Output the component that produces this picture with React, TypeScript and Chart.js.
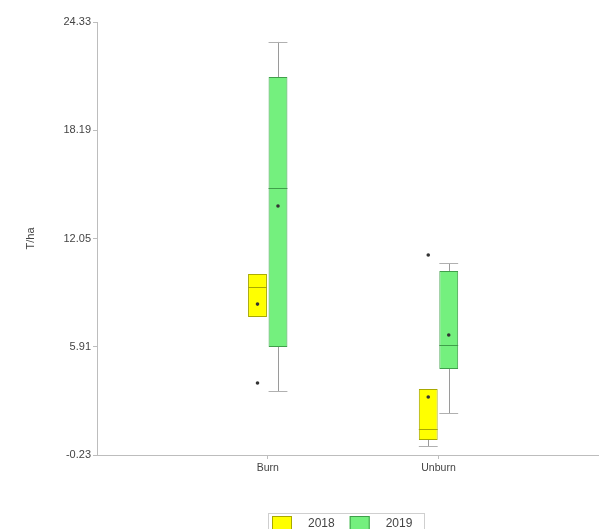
import React, { useEffect, useRef } from "react";
import { Chart, registerables } from "chart.js";

Chart.register(...registerables);

const categories = ["Burn", "Unburn"];
const seriesNames = ["2018", "2019"];
const yTicks = [-0.23, 5.91, 12.05, 18.19, 24.33];

const q1_2018 = [7.6, 0.62];
const med_2018 = [9.3, 1.24];
const q3_2018 = [10.04, 3.51];
const lo_2018 = [7.6, 0.28];
const hi_2018 = [10.04, 3.51];
const mean_2018 = [8.33, 3.06];
const out_2018 = [[3.85], [11.11]];

const q1_2019 = [5.9, 4.65];
const med_2019 = [14.91, 6.01];
const q3_2019 = [21.21, 10.21];
const lo_2019 = [3.4, 2.15];
const hi_2019 = [23.2, 10.66];
const mean_2019 = [13.89, 6.58];
const out_2019 = [[], []];

const fills = ["#ffff00", "#74f07e"];
const borders = ["#a8a800", "#3f9f4a"];

const stats = [
  { q1: q1_2018, med: med_2018, q3: q3_2018, lo: lo_2018, hi: hi_2018, mean: mean_2018, out: out_2018 },
  { q1: q1_2019, med: med_2019, q3: q3_2019, lo: lo_2019, hi: hi_2019, mean: mean_2019, out: out_2019 },
];

const FONT = "'Liberation Sans', Arial, sans-serif";

const boxPlugin = {
  id: "boxExtras",
  afterDatasetsDraw(chart: any) {
    const ctx = chart.ctx;
    const y = chart.scales.y;
    ctx.save();
    stats.forEach((s, di) => {
      const meta = chart.getDatasetMeta(di);
      meta.data.forEach((bar: any, j: number) => {
        const cx = bar.x;
        const hw = bar.width / 2;
        const pHi = y.getPixelForValue(s.hi[j]);
        const pLo = y.getPixelForValue(s.lo[j]);
        const pQ1 = y.getPixelForValue(s.q1[j]);
        const pQ3 = y.getPixelForValue(s.q3[j]);
        ctx.strokeStyle = "#9a9a9a";
        ctx.lineWidth = 1;
        ctx.beginPath();
        ctx.moveTo(Math.round(cx) + 0.5, pQ3);
        ctx.lineTo(Math.round(cx) + 0.5, pHi);
        ctx.moveTo(Math.round(cx) + 0.5, pQ1);
        ctx.lineTo(Math.round(cx) + 0.5, pLo);
        ctx.stroke();
        ctx.strokeStyle = "#b0b0b0";
        ctx.beginPath();
        if (s.hi[j] !== s.q3[j]) {
          ctx.moveTo(cx - hw, Math.round(pHi) + 0.5);
          ctx.lineTo(cx + hw, Math.round(pHi) + 0.5);
        }
        if (s.lo[j] !== s.q1[j]) {
          ctx.moveTo(cx - hw, Math.round(pLo) + 0.5);
          ctx.lineTo(cx + hw, Math.round(pLo) + 0.5);
        }
        ctx.stroke();
        const pMed = y.getPixelForValue(s.med[j]);
        ctx.strokeStyle = borders[di];
        ctx.beginPath();
        ctx.moveTo(cx - hw, Math.round(pMed) + 0.5);
        ctx.lineTo(cx + hw, Math.round(pMed) + 0.5);
        ctx.stroke();
        ctx.fillStyle = "#333333";
        const pm = y.getPixelForValue(s.mean[j]);
        ctx.beginPath();
        ctx.arc(cx, pm, 1.8, 0, Math.PI * 2);
        ctx.fill();
        s.out[j].forEach((v: number) => {
          ctx.beginPath();
          ctx.arc(cx, y.getPixelForValue(v), 1.8, 0, Math.PI * 2);
          ctx.fill();
        });
      });
    });
    ctx.restore();
  },
  afterDraw(chart: any) {
    const ctx = chart.ctx;
    const area = chart.chartArea;
    ctx.save();
    ctx.font = "12px " + FONT;
    const sw = 20;
    const sh = 17;
    const gapText = 16;
    const gapItem = 15;
    const padL = 4;
    const padR = 12;
    let total = padL;
    const widths = seriesNames.map((n) => ctx.measureText(n).width);
    widths.forEach((w, i) => {
      total += sw + gapText + w + (i < widths.length - 1 ? gapItem : 0);
    });
    total += padR;
    const left = Math.round((area.left + area.right) / 2 - total / 2) - 2;
    const top = Math.round(area.bottom + 58);
    ctx.strokeStyle = "#cfcfcf";
    ctx.lineWidth = 1;
    ctx.strokeRect(left + 0.5, top + 0.5, Math.round(total), 24);
    let x = left + padL;
    seriesNames.forEach((n, i) => {
      ctx.fillStyle = fills[i];
      ctx.fillRect(x, top + 3, sw, sh);
      ctx.strokeStyle = borders[i];
      ctx.strokeRect(x + 0.5, top + 3.5, sw - 1, sh - 1);
      x += sw + gapText;
      ctx.fillStyle = "#444444";
      ctx.textBaseline = "middle";
      ctx.textAlign = "left";
      ctx.fillText(n, x, top + 11);
      x += widths[i] + gapItem;
    });
    ctx.restore();
  },
};

export default function App() {
  const ref = useRef<HTMLCanvasElement | null>(null);
  useEffect(() => {
    if (!ref.current) return;
    const datasets: any[] = stats.map((s, i) => ({
      type: "bar",
      label: seriesNames[i],
      data: categories.map((_, j) => ({ x: j + 1, y: [s.q1[j], s.q3[j]] })),
      backgroundColor: fills[i],
      borderColor: borders[i],
      borderWidth: 1,
      borderSkipped: false,
      categoryPercentage: 0.24,
      barPercentage: 0.92,
    }));
    const chart = new Chart(ref.current, {
      type: "bar",
      data: { datasets },
      plugins: [boxPlugin],
      options: {
        animation: false,
        responsive: false,
        maintainAspectRatio: false,
        layout: { padding: { top: 22, left: 20, right: 0, bottom: 0 } },
        plugins: { legend: { display: false }, tooltip: { enabled: false } },
        scales: {
          x: {
            type: "linear",
            offset: false,
            min: 0,
            max: 2.94,
            afterBuildTicks: (scale: any) => {
              scale.ticks = categories.map((_, j) => ({ value: j + 1 }));
            },
            afterFit: (scale: any) => {
              scale.height = 74;
            },
            ticks: {
              callback: (v: any) => categories[Math.round(v) - 1] ?? "",
              color: "#444444",
              font: { size: 10.5, family: FONT },
              padding: 3,
              maxRotation: 0,
            },
            grid: { offset: false, drawOnChartArea: false, drawTicks: true, tickLength: 4, color: "#bdbdbd" },
            border: { display: true, color: "#bdbdbd" },
          },
          y: {
            type: "linear",
            min: -0.23,
            max: 24.33,
            afterBuildTicks: (scale: any) => {
              scale.ticks = yTicks.map((v) => ({ value: v }));
            },
            afterFit: (scale: any) => {
              scale.width = 77;
            },
            ticks: {
              callback: (v: any) => Number(v).toFixed(2),
              color: "#444444",
              font: { size: 11, family: FONT },
              padding: 2,
            },
            title: {
              display: true,
              text: "T/ha",
              color: "#444444",
              font: { size: 11, family: FONT },
              padding: 4,
            },
            grid: { drawOnChartArea: false, drawTicks: true, tickLength: 4, color: "#bdbdbd" },
            border: { display: true, color: "#bdbdbd" },
          },
        },
      },
    } as any);
    return () => chart.destroy();
  }, []);
  return (
    <div style={{ position: "fixed", left: 0, top: 0, width: 599, height: 529, background: "#fff", overflow: "hidden" }}>
      <canvas ref={ref} width={599} height={529} style={{ width: 599, height: 529, display: "block" }} />
    </div>
  );
}
